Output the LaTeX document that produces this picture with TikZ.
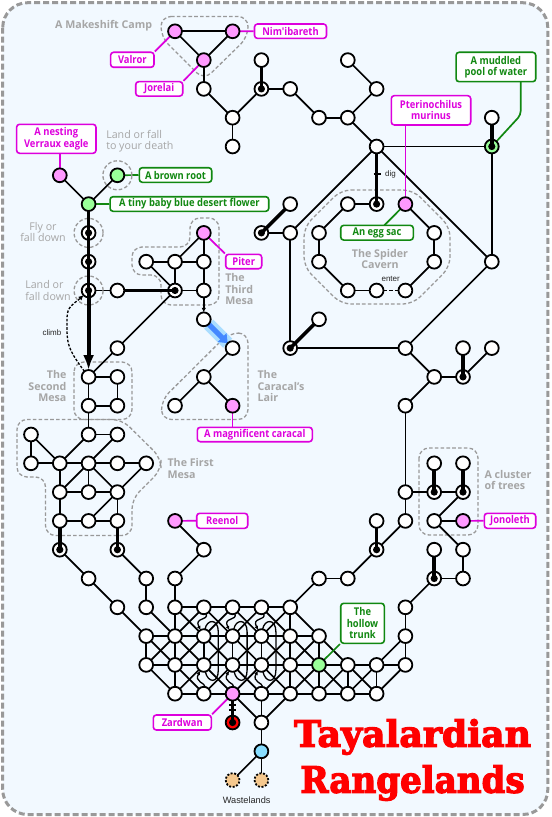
\documentclass[tikz,border=0pt]{standalone}
\usepackage{fontspec}
\setmainfont{Open Sans}
\newfontfamily\smallfont{Liberation Sans}
\newfontfamily\labelfont[FakeStretch=0.88]{Open Sans}
\newfontfamily\titlefont[FakeBold=3.4]{DejaVu Serif Bold}
\usetikzlibrary{arrows.meta}
\definecolor{pagebg}{HTML}{F2F9FF}
\definecolor{bordergrey}{HTML}{999999}
\definecolor{regiongrey}{HTML}{999999}
\definecolor{greytext}{HTML}{A6A6A6}
\definecolor{labmag}{HTML}{DD00DD}
\definecolor{labgreen}{HTML}{118811}
\definecolor{nodepink}{HTML}{FF99FF}
\definecolor{nodegreen}{HTML}{99FF99}
\definecolor{nodecyan}{HTML}{88DDFF}
\definecolor{nodeorange}{HTML}{F5C88E}
\definecolor{arrowblue}{HTML}{4488FF}
\definecolor{glowblue}{HTML}{AADDFF}
\def\px{0.75pt}
\pgfdeclarelayer{bgl}\pgfdeclarelayer{edgel}\pgfdeclarelayer{topl}
\pgfsetlayers{bgl,edgel,main,topl}
\tikzset{
  plain/.style={circle,draw=black,fill=white,line width=1.8*\px,minimum size=13.8*\px,inner sep=0pt,outer sep=0pt},
  pinknode/.style={plain,fill=nodepink},
  greennode/.style={plain,fill=nodegreen},
  cyannode/.style={plain,fill=nodecyan},
  orangenode/.style={plain,fill=nodeorange,dash pattern=on 2*\px off 1.6*\px},
  innerdot/.style={path picture={\fill[black] (path picture bounding box.center) circle (3.6*\px);}},
  dotnode/.style={plain,innerdot},
  greendot/.style={greennode,innerdot},
  rednode/.style={plain,fill=red,innerdot},
  edge/.style={draw=black,line width=1.7*\px},
  thickedge/.style={draw=black,line width=3.6*\px},
  hugeedge/.style={draw=black,line width=4*\px,-{Latex[length=15*\px,width=11*\px]}},
  tick/.style={draw=black,line width=1.5*\px},
  smallarrow/.style={edge,-{Latex[length=4.5*\px,width=4.5*\px]}},
  curlyarrow/.style={draw=black,line width=1.3*\px,-{Latex[length=4*\px,width=4*\px]}},
  arch/.style={draw=black,line width=1.3*\px},
  climbline/.style={draw=black,line width=1.3*\px,dash pattern=on 2.6*\px off 1.6*\px,-{Latex[length=5*\px,width=5*\px]}},
  enterline/.style={draw=black,line width=1.7*\px,dash pattern=on 3.5*\px off 2*\px},
  glow/.style={draw=glowblue,line width=13*\px},
  bluearrow/.style={draw=arrowblue,line width=5*\px,-{Triangle[length=8*\px,width=12*\px]}},
  region/.style={draw=regiongrey,line width=1.3*\px,dash pattern=on 3.6*\px off 2.2*\px,rounded corners=10*\px},
  ring/.style={circle,draw=regiongrey,line width=1.3*\px,dash pattern=on 3.6*\px off 2.2*\px,minimum size=29*\px,inner sep=0pt},
  labelbase/.style={fill=white,line width=1.6*\px,rounded corners=3*\px,inner sep=0pt,align=center,font=\labelfont\bfseries\fontsize{8pt}{8.5pt}\selectfont},
  maglabel/.style={labelbase,draw=labmag,text=labmag},
  greenlabel/.style={labelbase,draw=labgreen,text=labgreen},
  magline/.style={draw=labmag,line width=1.7*\px},
  greenline/.style={draw=labgreen,line width=1.7*\px},
  greybold/.style={text=greytext,font=\bfseries\fontsize{8pt}{8.5pt}\selectfont,inner sep=0pt},
  greyplain/.style={text=greytext,font=\fontsize{8pt}{8.5pt}\selectfont,inner sep=0pt},
  smalltext/.style={text=black!85,font=\smallfont\fontsize{6pt}{7pt}\selectfont,inner sep=0pt},
  titletext/.style={text=red,anchor=base,font=\titlefont\fontsize{27.2pt}{30pt}\selectfont,inner sep=0pt}
}
\begin{document}
\begin{tikzpicture}[x=0.75pt,y=-0.75pt]
\useasboundingbox (0,0) rectangle (551,817);
% nodes
\foreach \k/\j in {7/3,8/4,8/5,9/2,10/3,11/4,12/2,13/3,12/4,13/5,17/4,17/9,12/7,11/8,11/9,12/10,13/10,14/10,15/8,15/9,10/7,10/8,11/11,14/12,15/13,16/12,17/12,14/14,14/17,14/18,15/16,16/16,15/18,13/18,16/19,15/19,16/20,11/20,12/20,14/21,14/22,13/23,14/23,12/23,12/24,13/24,11/22,11/24,4/10,7/10,7/9,5/9,6/9,7/11,8/12,7/13,6/14,4/12,3/13,4/13,3/14,4/14,1/15,3/15,4/15,1/16,2/16,3/16,4/16,5/16,2/17,3/17,4/17,2/18,3/18,4/18,7/19,3/20,5/20,6/20,4/21,5/21,6/21,7/21,8/21,9/21,10/21,5/22,6/22,7/22,8/22,9/22,10/22,5/23,6/23,7/23,8/23,9/23,10/23,6/24,7/24,9/24,10/24,9/25}
  \node[plain] (n\k-\j) at ({2.2+28.8*\k},{2.5+28.8*\j}) {};
\foreach \k/\j in {9/3,13/7,9/8,10/12,16/13,15/17,16/17,13/19,15/20,3/8,3/9,3/10,6/10,2/19,4/19}
  \node[dotnode] (n\k-\j) at ({2.2+28.8*\k},{2.5+28.8*\j}) {};
\foreach \k/\j in {6/1,8/1,7/2,2/6,7/8,8/14,14/7,6/18,16/18,8/24}
  \node[pinknode] (n\k-\j) at ({2.2+28.8*\k},{2.5+28.8*\j}) {};
\foreach \k/\j in {4/6,3/7,11/23}
  \node[greennode] (n\k-\j) at ({2.2+28.8*\k},{2.5+28.8*\j}) {};
\node[greendot] (n17-5) at ({2.2+28.8*17},{2.5+28.8*5}) {};
\node[rednode] (n8-25) at ({2.2+28.8*8},{2.5+28.8*25}) {};
\node[cyannode] (n9-26) at ({2.2+28.8*9},{2.5+28.8*26}) {};
\node[orangenode] (n8-27) at ({2.2+28.8*8},{2.5+28.8*27}) {};
\node[orangenode] (n9-27) at ({2.2+28.8*9},{2.5+28.8*27}) {};
% labels
\node[maglabel,minimum width=72*\px,minimum height=14.4*\px] (lnim) at (290.5,31.2) {Nim'ibareth};
\node[maglabel,minimum width=43.4*\px,minimum height=15*\px] (lval) at (132.3,59.8) {Valror};
\node[maglabel,minimum width=47*\px,minimum height=14.4*\px] (ljor) at (159.2,88.9) {Jorelai};
\node[maglabel,minimum width=79.4*\px,minimum height=29*\px] (leag) at (56.3,138.8) {A nesting\\Verraux eagle};
\node[greenlabel,minimum width=72.4*\px,minimum height=14.6*\px] (lroot) at (175.5,175) {A brown root};
\node[greenlabel,minimum width=158.7*\px,minimum height=14.6*\px] (lflow) at (189.4,204) {A tiny baby blue desert flower};
\node[maglabel,minimum width=36*\px,minimum height=14.4*\px] (lpit) at (243.7,261.5) {Piter};
\node[greenlabel,minimum width=79.7*\px,minimum height=29.4*\px] (lmud) at (495.9,67) {A muddled\\pool of water};
\node[maglabel,minimum width=79.4*\px,minimum height=29.3*\px] (lpte) at (431,110.3) {Pterinochilus\\murinus};
\node[greenlabel,minimum width=72.6*\px,minimum height=14.7*\px] (legg) at (377,232.7) {An egg sac};
\node[maglabel,minimum width=115*\px,minimum height=14.4*\px] (lcar) at (254.8,434.5) {A magnificent caracal};
\node[maglabel,minimum width=51*\px,minimum height=15*\px] (lree) at (222.2,520.8) {Reenol};
\node[maglabel,minimum width=51.4*\px,minimum height=15*\px] (ljon) at (510,520.8) {Jonoleth};
\node[maglabel,minimum width=58*\px,minimum height=15*\px] (lzar) at (182.3,722.5) {Zardwan};
\node[greenlabel,minimum width=43.6*\px,minimum height=40*\px] (ltru) at (362.5,623.3) {The\\hollow\\trunk};
% grey texts
\node[greybold,anchor=east] (tcamp) at (152.3,26) {A Makeshift Camp};
\node[greyplain,align=left,anchor=west] (tdeath) at (106,141.2) {Land or fall\\to your death};
\node[greyplain,align=center] (tfly) at (43,232) {Fly or\\fall down};
\node[greyplain,align=left,anchor=west] (tland) at (25,290.5) {Land or\\fall down};
\node[greybold,align=left,anchor=west] (tthird) at (225,289) {The\\Third\\Mesa};
\node[greybold,align=right,anchor=east] (tsecond) at (66.7,386) {The\\Second\\Mesa};
\node[greybold,align=left,anchor=west] (tcara) at (257.3,386) {The\\Caracal's\\Lair};
\node[greybold,align=left,anchor=west] (tfirst) at (167.3,468.5) {The First\\Mesa};
\node[greybold,align=left,anchor=west] (ttrees) at (484.3,479.8) {A cluster\\of trees};
\node[greybold,align=center] (tcave) at (380,258.7) {The Spider\\Cavern};
\node[smalltext] (tdig) at (390.5,174.3) {dig};
\node[smalltext] (tenter) at (390.7,279) {enter};
\node[smalltext] (tclimb) at (52,332.7) {climb};
\node[smalltext,font=\smallfont\fontsize{6.9pt}{8pt}\selectfont] (twaste) at (246.7,800.7) {Wastelands};
\node[titletext] (title1) at (412.5,746.7) {Tayalardian};
\node[titletext] (title2) at (412.5,792.7) {\scalebox{0.94}[1]{Rangelands}};
% rings
\node[ring] (r1) at (n4-6) {};
\node[ring] (r2) at (n3-8) {};
\node[ring] (r3) at (n3-10) {};
% background, regions
\begin{pgfonlayer}{bgl}
\draw[line width=3*\px,draw=bordergrey,fill=pagebg,dash pattern=on 6*\px off 3*\px,rounded corners=25*\px] (2.7,2.7) rectangle (547.8,814.5);
\draw[region] (161,16.5) -- (248,16.5) -- (248,37) -- (204,80) -- (161,37) -- cycle;
\draw[region] (190,218) -- (219,218) -- (219,305) -- (161,305) -- (161,275) -- (132,275) -- (132,247) -- (190,247) -- cycle;
\draw[region] (248,333) -- (229,333) -- (161.5,400) -- (161.5,419.5) -- (248,419.5) -- cycle;
\draw[region] (74,362) rectangle (132,419.5);
\draw[region] (17,419.5) -- (122,419.5) -- (161,458) -- (161,470) -- (132,499) -- (132,535.5) -- (45.5,535.5) -- (45.5,477) -- (17,477) -- cycle;
\draw[region] (341,190) -- (413,190) -- (450,227) -- (450,267) -- (413,304) -- (341,304) -- (304,267) -- (304,227) -- cycle;
\draw[region] (419,448) rectangle (478,535);
\end{pgfonlayer}
% edges
\begin{pgfonlayer}{edgel}
\foreach \a/\b in {6-1/8-1,6-1/7-2,8-1/7-2,7-2/7-3,7-3/8-4,8-4/8-5,8-4/9-3,9-3/10-3,10-3/11-4,11-4/12-4,12-4/13-3,13-3/12-2,12-4/13-5,13-5/17-5,13-5/17-9,17-5/17-9,13-5/10-8,10-8/9-8,10-8/10-12,10-12/14-12,14-12/17-9,13-7/12-7,12-7/11-8,11-8/11-9,11-9/12-10,12-10/13-10,14-10/15-9,15-9/15-8,15-8/14-7,%
2-6/3-7,4-6/3-7,3-10/4-10,6-10/7-10,6-9/6-10,7-8/7-9,7-9/7-10,6-9/7-9,5-9/6-9,6-9/7-8,5-9/6-10,6-10/4-12,4-12/3-13,8-12/7-13,7-13/6-14,7-13/8-14,3-13/4-13,4-13/4-14,3-13/3-14,3-14/4-14,3-14/3-15,%
1-15/1-16,1-15/2-16,1-16/2-16,2-16/3-16,3-16/4-16,4-16/5-16,2-16/3-15,3-15/4-15,4-15/3-16,2-16/2-17,3-16/2-17,3-16/3-17,3-16/4-17,5-16/4-17,2-17/3-17,3-17/4-17,2-17/2-18,4-17/4-18,4-17/3-18,2-18/3-18,3-18/4-18,%
2-19/3-20,3-20/4-21,4-21/5-22,4-19/5-20,5-20/5-21,5-21/6-22,6-18/7-19,7-19/6-20,6-20/6-21,6-21/6-22,%
14-12/15-13,15-13/16-13,16-13/17-12,15-13/14-14,14-14/14-17,14-17/15-17,15-17/16-17,14-17/14-18,14-18/13-19,16-17/15-18,15-18/16-18,15-18/16-19,16-19/16-20,15-20/16-20,15-20/14-21,14-21/14-22,14-22/14-23,13-19/12-20,11-20/12-20,11-20/10-21,14-22/13-23,13-23/14-23,13-23/13-24,14-23/13-24,%
6-21/7-21,7-21/8-21,8-21/9-21,9-21/10-21,10-21/10-22,%
6-21/7-22,7-21/6-22,7-21/8-22,8-21/7-22,8-21/9-22,9-21/8-22,9-21/10-22,10-21/9-22,10-21/11-22,%
5-22/6-22,6-22/7-22,7-22/8-22,8-22/9-22,9-22/10-22,10-22/11-22,%
5-22/5-23,6-22/6-23,7-22/7-23,8-22/8-23,9-22/9-23,10-22/10-23,11-22/11-23,%
5-22/6-23,6-22/5-23,6-22/7-23,7-22/6-23,7-22/8-23,8-22/7-23,8-22/9-23,9-22/8-23,9-22/10-23,10-22/9-23,10-22/11-23,11-22/10-23,11-22/12-23,%
5-23/6-23,6-23/7-23,7-23/8-23,8-23/9-23,9-23/10-23,10-23/11-23,11-23/12-23,12-23/13-23,%
5-23/6-24,6-23/6-24,6-23/7-24,7-23/6-24,7-23/8-24,8-23/7-24,8-23/9-24,9-23/8-24,9-23/10-24,10-23/9-24,10-23/10-24,10-23/11-24,11-23/10-24,11-23/11-24,11-23/12-24,12-23/11-24,12-23/12-24,12-23/13-24,13-23/12-24,%
6-24/7-24,7-24/8-24,8-24/9-24,9-24/10-24,10-24/11-24,11-24/12-24,12-24/13-24,%
8-24/9-25,10-24/9-25,9-24/9-25,9-25/9-26,9-26/8-27,9-26/9-27}
  \draw[edge] (n\a) -- (n\b);
\draw[enterline] (n13-10) -- (n14-10);
\draw[smallarrow] (n7-10) -- (n7-11);
\draw[glow] (n7-11) -- (n8-12);
\draw[bluearrow] (n7-11) -- (n8-12);
\draw[climbline] (n3-13) .. controls (70,352) and (67,345) .. (67,330) -- (67,318) .. controls (67,306) and (74,304) .. (n3-10);
% curls in the mesh
\foreach \k/\xo in {7/203.8,8/232.6,9/261.4}{
  \draw[curlyarrow] (n\k-21) .. controls ({\xo+5},621) and ({\xo-10},617) .. (n\k-22);
  \draw[curlyarrow] (n\k-24) .. controls ({\xo+2},683) and ({\xo-10},682) .. (n\k-23);
  \draw[arch] (n\k-22) .. controls ({\xo+3},619) and ({\xo+14.5},618) .. ({\xo+14.5},632) -- ({\xo+14.5},670) .. controls ({\xo+14.5},684) and ({\xo+4},683) .. (n\k-23);
}
% label connectors
\draw[magline] (n8-1) -- (lnim.west);
\draw[magline] (n6-1) -- (lval.north east);
\draw[magline] (n7-2) -- (ljor.north east);
\draw[magline] (n2-6) -- (n2-6 |- leag.south);
\draw[greenline] (n4-6) -- (lroot.west);
\draw[greenline] (n3-7) -- (lflow.west);
\draw[magline] (n7-8) -- (lpit.north west);
\coordinate (mudbend) at (520.7,115);
\coordinate (eggtop) at (384.3,225.3);
\coordinate (mudtop) at (520.7,81.7);
\draw[greenline,rounded corners=4*\px] (mudtop) -- (mudbend) -- (n17-5);
\draw[magline] (n14-7 |- lpte.south) -- (n14-7);
\draw[greenline] (n14-7) -- (eggtop);
\draw[magline] (n8-14) -- (n8-14 |- lcar.north);
\draw[magline] (n6-18) -- (lree.west);
\draw[magline] (n16-18) -- (ljon.west);
\draw[magline] (n8-24) -- (lzar.north east);
\draw[greenline] (n11-23) -- (ltru.south west);
\end{pgfonlayer}
% thick edges run into the black dots
\begin{pgfonlayer}{topl}
\foreach \a/\b in {9-2/9-3,17-4/17-5,13-5/13-7,10-7/9-8,11-11/10-12,16-12/16-13,15-16/15-17,16-16/16-17,13-18/13-19,15-19/15-20,2-18/2-19,4-18/4-19,4-10/6-10,3-7/3-8,8-24/8-25}
  \draw[thickedge] (n\a) -- (n\b.center);
\draw[thickedge] (n3-8.center) -- (n3-9.center);
\draw[thickedge] (n3-9.center) -- (n3-10.center);
\draw[hugeedge] (n3-10.center) -- (n3-13);
\coordinate (digl) at (373.5,174);
\coordinate (digr) at (380.5,174);
\coordinate (barla) at (229.1,705);
\coordinate (barra) at (236.1,705);
\coordinate (barlb) at (229.1,710);
\coordinate (barrb) at (236.1,710);
\draw[tick] (digl) -- (digr);
\draw[tick] (barla) -- (barra);
\draw[tick] (barlb) -- (barrb);
\end{pgfonlayer}
\end{tikzpicture}
\end{document}
